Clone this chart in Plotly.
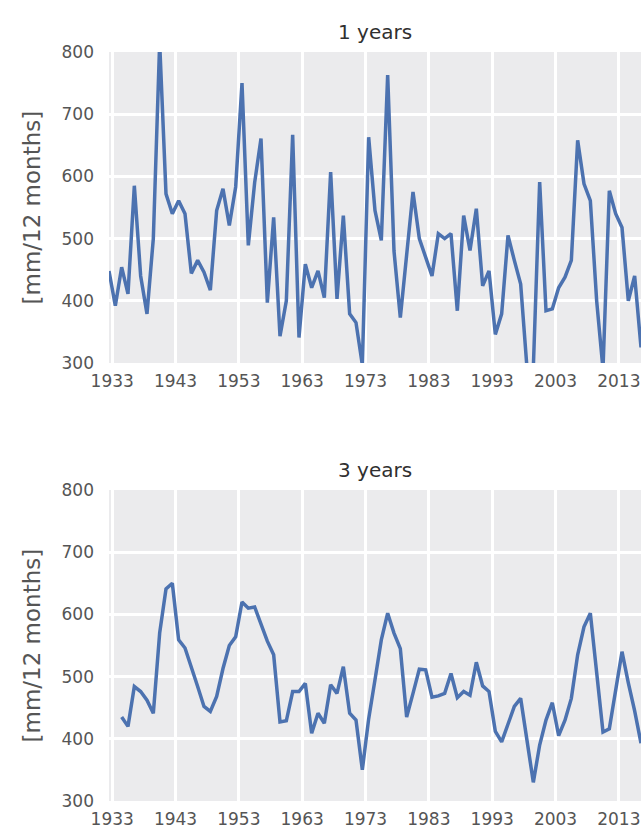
import plotly.graph_objects as go
from plotly.subplots import make_subplots

# Yearly precipitation totals, one value per year (1932-2016)
years = list(range(1932, 2017))

rain_1y = [
    448, 392, 454, 411, 585, 440, 379, 500, 815, 572,
    540, 561, 540, 444, 465, 446, 417, 545, 580, 521,
    583, 750, 489, 590, 661, 397, 534, 343, 400, 667,
    341, 459, 421, 448, 405, 607, 403, 537, 379, 365,
    297, 663, 545, 497, 763, 480, 373, 470, 575, 500,
    470, 440, 508, 500, 508, 384, 537, 481, 548, 424,
    448, 346, 379, 505, 465, 427, 292, 292, 591, 384,
    387, 421, 438, 465, 658, 588, 561, 400, 290, 577,
    540, 518, 400, 440, 325,
]

# 3-year rolling mean (first two years have no value)
rain_3y = [
    None, None, 435, 420, 484, 476, 462, 441, 570, 641,
    650, 559, 546, 517, 484, 452, 444, 468, 513, 550,
    564, 620, 610, 612, 585, 557, 535, 427, 429, 476,
    476, 489, 409, 441, 425, 487, 473, 516, 441, 430,
    350, 432, 495, 559, 602, 570, 545, 435, 473, 512,
    511, 467, 469, 473, 505, 466, 476, 470, 523, 485,
    476, 412, 395, 425, 452, 465, 400, 330, 390, 430,
    458, 405, 430, 465, 535, 580, 602, 500, 411, 416,
    479, 540, 490, 445, 393,
]

tick_years = [1933, 1943, 1953, 1963, 1973, 1983, 1993, 2003, 2013]
y_ticks = [300, 400, 500, 600, 700, 800]
panel_titles = ["1 years", "3 years"]
y_label = "[mm/12 months]"

dates = [f"{y}-07-01" for y in years]
tick_dates = [f"{y}-01-01" for y in tick_years]

LINE = "#4C72B0"
FACE = "#EBEBED"
TEXT = "#555555"
FONT = "DejaVu Sans"

W, H = 641, 837
left, right, top, bottom = 109, 0, 52, 36
plot_h = H - top - bottom
# pixel rows of the two panels
top_panel = (52, 363)
bot_panel = (490, 801)


def frac(px):
    return (H - bottom - px) / plot_h


fig = make_subplots(rows=2, cols=1)
fig.add_trace(go.Scatter(x=dates, y=rain_1y, mode="lines",
                         line=dict(color=LINE, width=3.5)), row=1, col=1)
fig.add_trace(go.Scatter(x=dates, y=rain_3y, mode="lines",
                         line=dict(color=LINE, width=3.5)), row=2, col=1)

axis_common = dict(showline=False, zeroline=False, gridcolor="white",
                   gridwidth=2.5, ticks="",
                   tickfont=dict(family=FONT, size=17, color=TEXT))

for i, (name, pan) in enumerate([("1", top_panel), ("2", bot_panel)]):
    xa = "xaxis" if name == "1" else "xaxis2"
    ya = "yaxis" if name == "1" else "yaxis2"
    fig.layout[xa].update(type="date", range=[dates[0], dates[-1]],
                          tickvals=tick_dates,
                          ticktext=[str(y) for y in tick_years],
                          ticklabelstandoff=6, **axis_common)
    fig.layout[ya].update(range=[300, 800], tickvals=y_ticks,
                          domain=[frac(pan[1]), frac(pan[0])],
                          ticklabelstandoff=14, **axis_common)
    mid = (frac(pan[0]) + frac(pan[1])) / 2
    fig.add_annotation(text=panel_titles[i], xref="paper", yref="paper",
                       x=0.5, y=frac(pan[0]), xanchor="center",
                       yanchor="middle", yshift=20, showarrow=False,
                       font=dict(family=FONT, size=20, color="#303030"))
    fig.add_annotation(text=y_label, xref="paper", yref="paper",
                       x=(31 - left) / (W - left), y=mid, xanchor="center",
                       yanchor="middle", textangle=-90, showarrow=False,
                       font=dict(family=FONT, size=23, color=TEXT))

fig.update_layout(width=W, height=H, showlegend=False,
                  margin=dict(l=left, r=right, t=top, b=bottom),
                  paper_bgcolor="white", plot_bgcolor=FACE)

fig.write_html("out.html")
